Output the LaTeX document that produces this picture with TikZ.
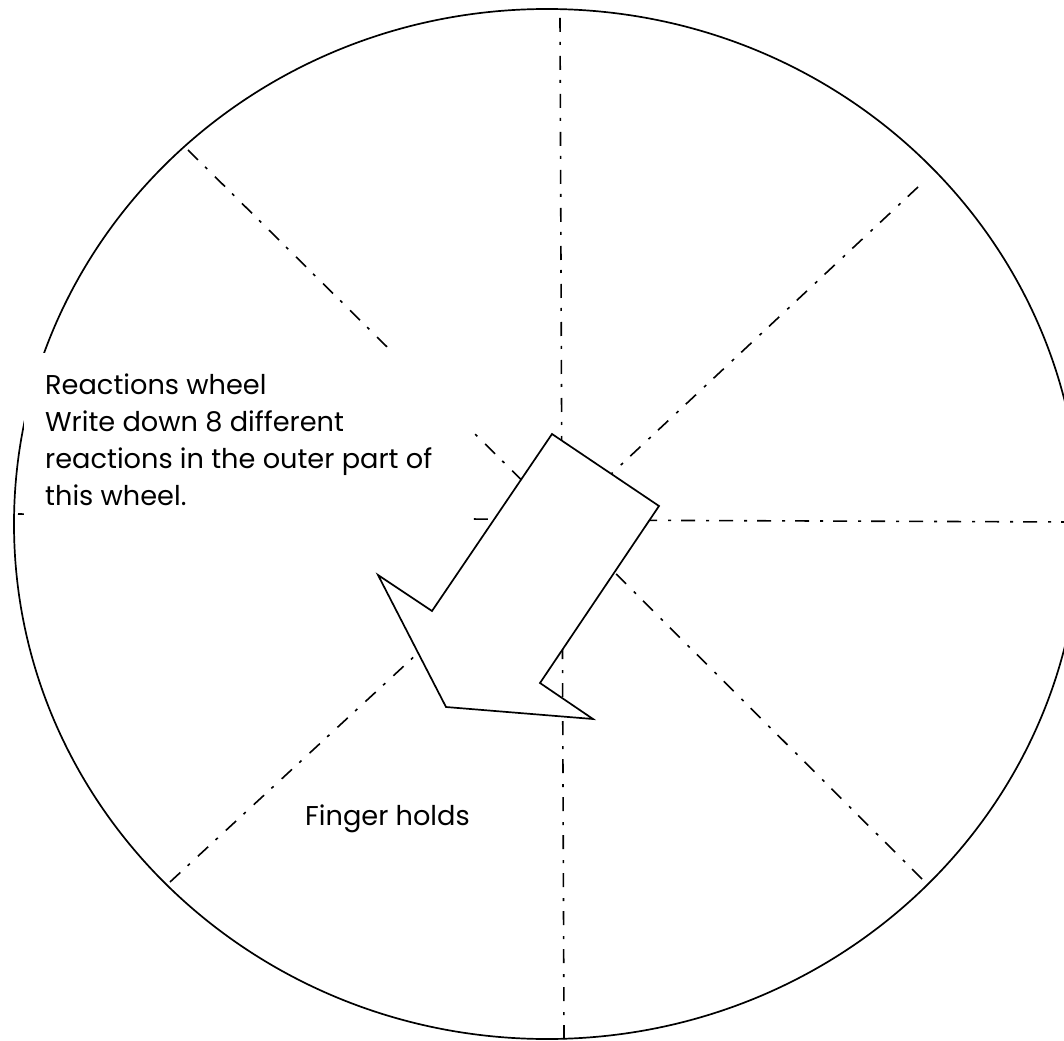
\documentclass[tikz,border=0pt]{standalone}
\usepackage{fontspec}
\setmainfont{Poppins}
\tikzset{
  rim/.style={line width=1.7pt},
  spoke/.style={line width=1.6pt, dash pattern=on 14pt off 10pt on 3pt off 11pt},
  cover/.style={fill=white, draw=none},
  bigarrow/.style={fill=white, draw=black, line width=1.7pt, line join=miter},
  label/.style={inner sep=0pt, align=left, font=\fontsize{27.2}{37}\selectfont}
}
\begin{document}
\begin{tikzpicture}[x=1pt,y=-1pt]
\clip (0,0) rectangle (1064,1040);
\fill[white] (0,0) rectangle (1064,1040);
% wheel rim
\draw[rim] (547,524) ellipse [x radius=533, y radius=515];
% spokes
\coordinate (c) at (562,520);
\coordinate (t) at (560,18);
\coordinate (b) at (564,1039);
\coordinate (l) at (18,514);
\coordinate (r) at (1075,522);
\coordinate (ul) at (188,150);
\coordinate (ur) at (918,187);
\coordinate (ll) at (170,882);
\coordinate (lr) at (922,879);
\foreach \p in {t,b,l,r,ul,ur,ll,lr}{\draw[spoke] (\p) -- (c);}
% text box covering spokes
\fill[cover] (24,353) rectangle (470,528);
\node[label, anchor=north west] (info) at (45,374)
  {Reactions wheel\\Write down 8 different\\reactions in the outer part of\\this wheel.};
% block arrow
\draw[bigarrow] (552,434) -- (659,506) -- (540,683) -- (593,719) -- (446,707)
  -- (378,575) -- (432,611) -- cycle;
\node[label, anchor=base west] (finger) at (305,825) {Finger holds};
\end{tikzpicture}
\end{document}
